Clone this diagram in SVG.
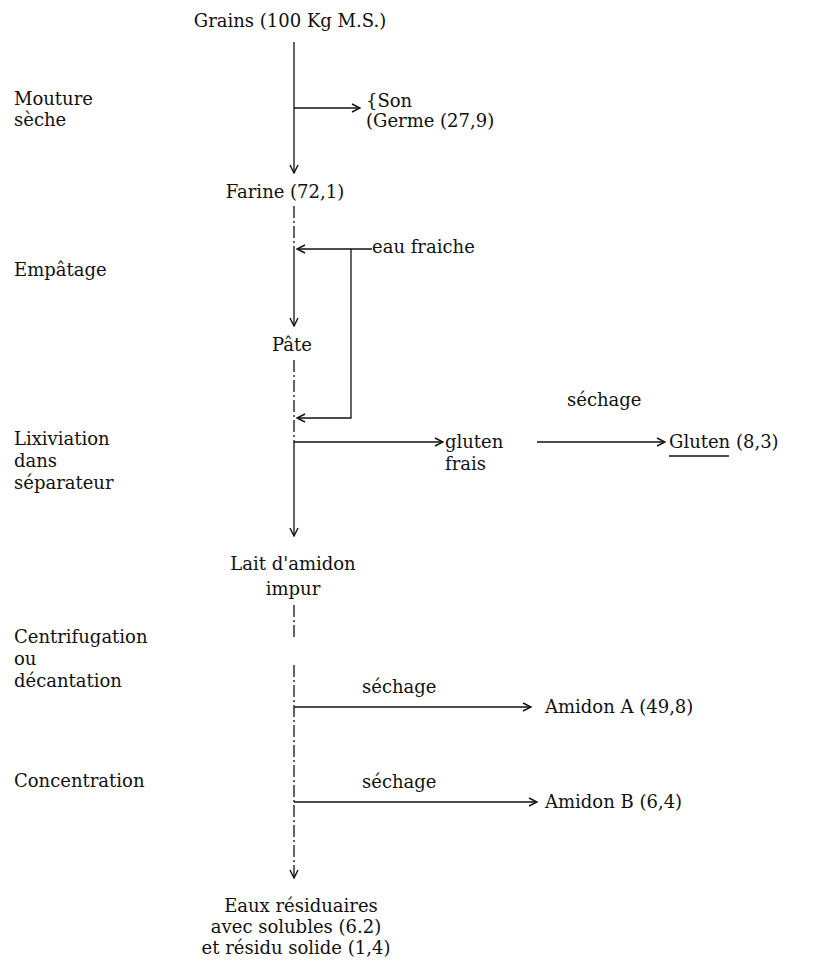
<svg xmlns="http://www.w3.org/2000/svg" width="825" height="966" viewBox="0 0 825 966">
<style>
text{font-family:"DejaVu Serif","Liberation Serif",serif;font-size:18px;fill:#111}
.c{text-anchor:middle}
.ln{stroke:#111;stroke-width:1.3;fill:none}
.d{stroke-dasharray:12 3 2 3}
</style>
<defs>
<marker id="a" viewBox="0 0 10 10" refX="9" refY="5" markerWidth="10" markerHeight="10" markerUnits="userSpaceOnUse" orient="auto">
<path d="M1,1 L9,5 L1,9" fill="none" stroke="#111" stroke-width="1.4"/>
</marker>
</defs>
<g id="labels">
<text x="14" y="105">Mouture</text>
<text x="14" y="126">sèche</text>
<text x="14" y="276">Empâtage</text>
<text x="14" y="445">Lixiviation</text>
<text x="14" y="467">dans</text>
<text x="14" y="489">séparateur</text>
<text x="14" y="643">Centrifugation</text>
<text x="14" y="665">ou</text>
<text x="14" y="687">décantation</text>
<text x="14" y="787">Concentration</text>
</g>
<g id="grains"><text class="c" x="290" y="27">Grains (100 Kg M.S.)</text></g>
<g id="son"><text x="366" y="107">{Son</text><text x="366" y="127">(Germe (27,9)</text></g>
<g id="farine"><text class="c" x="285" y="198">Farine (72,1)</text></g>
<g id="eau"><text x="372" y="253">eau fraiche</text></g>
<g id="pate"><text class="c" x="292" y="351">Pâte</text></g>
<g id="gluten-frais"><text x="445" y="448">gluten</text><text x="445" y="470">frais</text></g>
<g id="gluten"><text x="669" y="448">Gluten (8,3)</text><line class="ln" x1="669" y1="456" x2="729" y2="456"/></g>
<g id="lait"><text class="c" x="293" y="570">Lait d'amidon</text><text class="c" x="293" y="595">impur</text></g>
<g id="amidonA"><text x="545" y="713">Amidon A (49,8)</text></g>
<g id="amidonB"><text x="545" y="808">Amidon B (6,4)</text></g>
<g id="eaux"><text class="c" x="301" y="912">Eaux résiduaires</text><text class="c" x="296" y="933">avec solubles (6.2)</text><text class="c" x="296" y="954">et résidu solide (1,4)</text></g>
<g id="edge-labels">
<text x="567" y="406">séchage</text>
<text x="362" y="693">séchage</text>
<text x="362" y="788">séchage</text>
</g>
<g id="connectors">
<line class="ln" x1="294" y1="42" x2="294" y2="173" marker-end="url(#a)"/>
<line class="ln" x1="294" y1="108" x2="360" y2="108" marker-end="url(#a)"/>
<line class="ln d" x1="294" y1="206" x2="294" y2="249"/>
<line class="ln" x1="294" y1="249" x2="294" y2="326" marker-end="url(#a)"/>
<line class="ln" x1="372" y1="249" x2="297" y2="249" marker-end="url(#a)"/>
<polyline class="ln" points="351,249 351,418 297,418" marker-end="url(#a)"/>
<line class="ln d" x1="294" y1="360" x2="294" y2="442"/>
<line class="ln" x1="294" y1="442" x2="443" y2="442" marker-end="url(#a)"/>
<line class="ln" x1="537" y1="442" x2="665" y2="442" marker-end="url(#a)"/>
<line class="ln" x1="294" y1="442" x2="294" y2="536" marker-end="url(#a)"/>
<line class="ln d" x1="294" y1="605" x2="294" y2="640"/>
<line class="ln d" x1="294" y1="665" x2="294" y2="878" marker-end="url(#a)"/>
<line class="ln" x1="294" y1="707" x2="531" y2="707" marker-end="url(#a)"/>
<line class="ln" x1="294" y1="802" x2="537" y2="802" marker-end="url(#a)"/>
</g>
</svg>
